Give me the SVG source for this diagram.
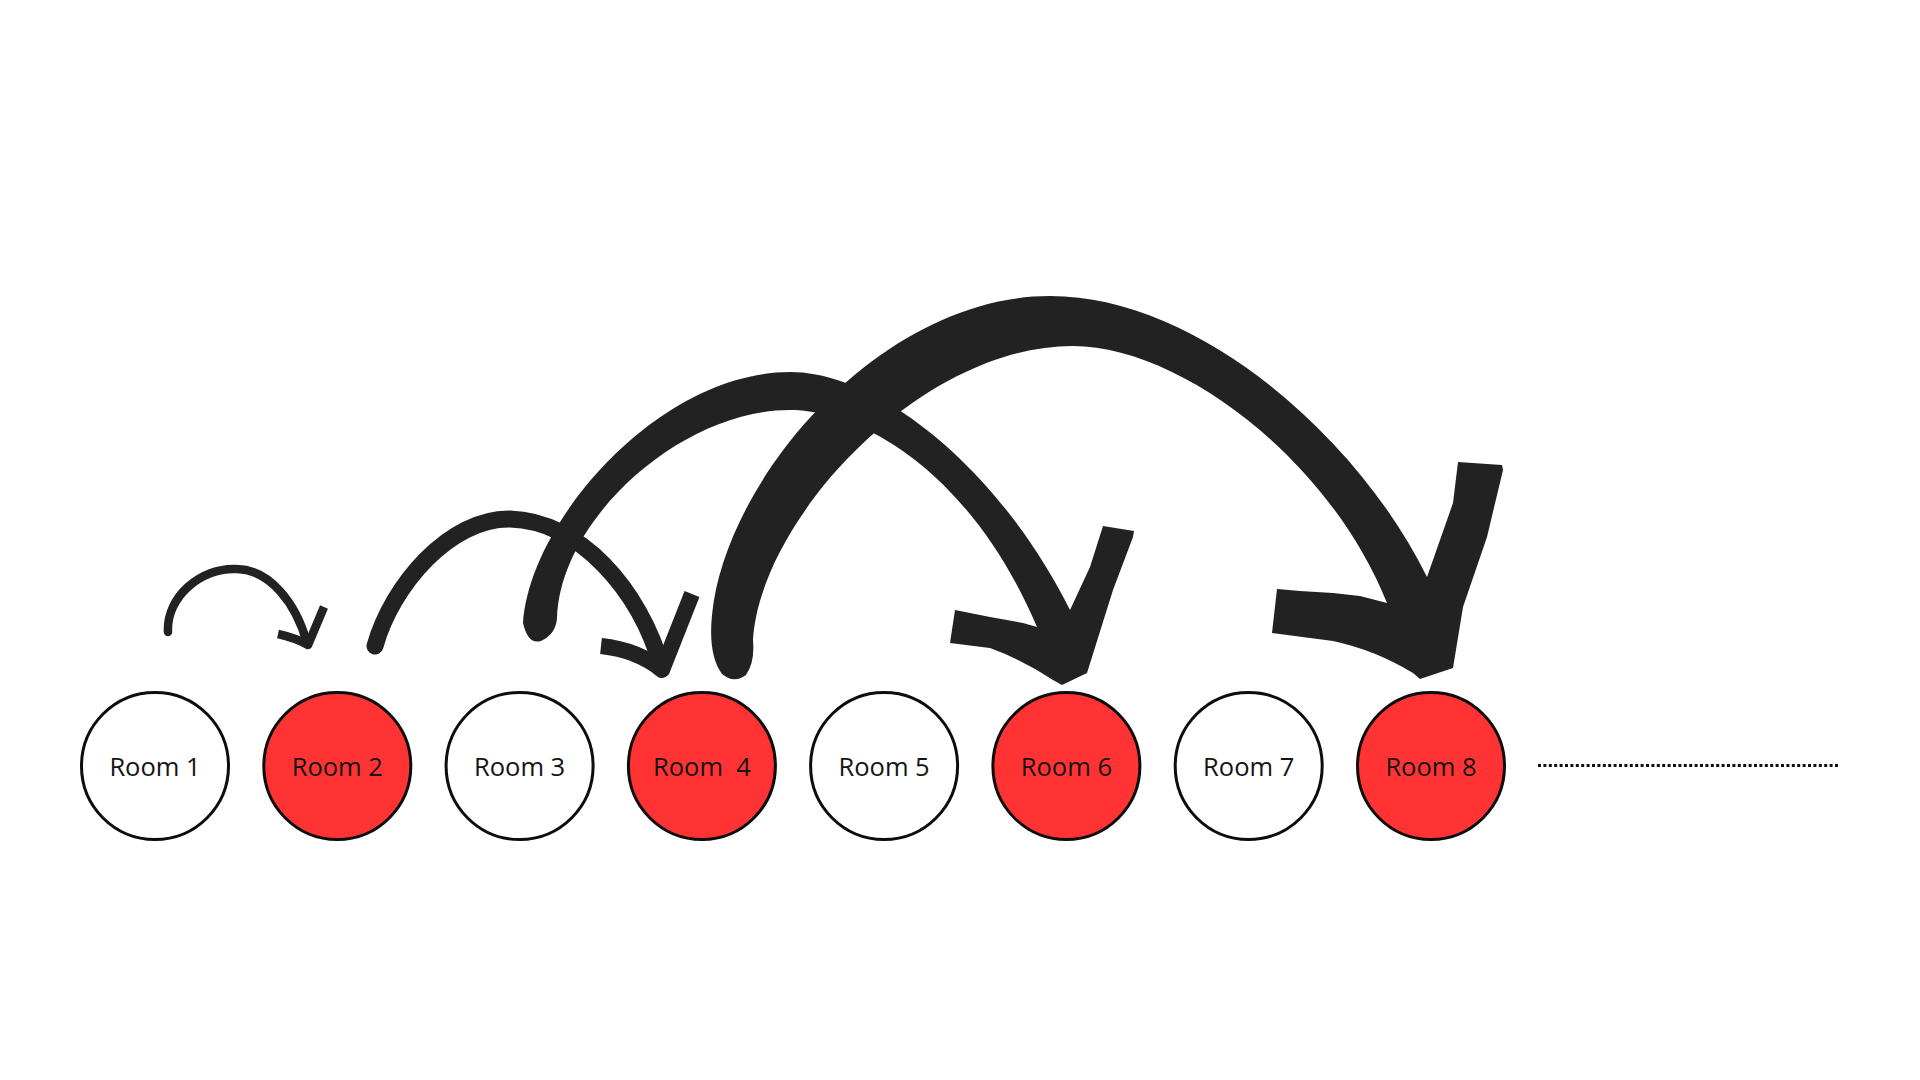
<svg xmlns="http://www.w3.org/2000/svg" width="1920" height="1080" viewBox="0 0 1920 1080">
<style>
.room{stroke:#0d0d0d;stroke-width:3}
.w{fill:#ffffff}
.r{fill:#ff3333}
.lbl{font-family:"Open Sans","Noto Sans","Liberation Sans",sans-serif;font-size:25.5px;fill:#141414;text-anchor:middle}
.brush{fill:#222222}
.line{fill:none;stroke:#222222;stroke-linecap:round;stroke-linejoin:round}
.head{fill:none;stroke:#222222;stroke-linecap:butt;stroke-linejoin:round}
</style>
<rect width="1920" height="1080" fill="#ffffff"/>
<g id="connectors">
  <g id="arrow-1-2">
    <path class="line" stroke-width="8.5" d="M168,632 C166,598 200,567 237,569 C270,570 296,603 307,643"/>
    <path class="head" stroke-width="8.5" d="M278,634 Q296,638 308,645 L324,607"/>
  </g>
  <g id="arrow-3-4">
    <path class="line" stroke-width="17" d="M375,646 C392,585 450,518 510,519 C580,521 640,590 662,668"/>
    <path class="head" stroke-width="16" d="M601,646 Q638,650 662,670 L692,594"/>
  </g>
  <path id="arrow-3-6" class="brush" d="M557,618 C560,520 680,410 790,410 C860,410 970,470 1037,627 L1023,623 L990,617 L955,610 L950,643 L990,648 Q1023,660 1053,680 L1062,685 L1087,673 L1113,590 L1133,537 L1134,531 L1103,526 L1090,567 L1070,610 C1000,470 880,372 790,372 C660,372 530,520 523,623 Q528,645 541,641 Q556,634 557,618 Z"/>
  <path id="arrow-4-8" class="brush" d="M753,640 C760,520 920,346 1073,346 C1180,346 1330,460 1387,603 L1360,596 L1333,593 L1300,591 L1277,589 L1272,633 L1333,641 Q1375,650 1413,673 L1420,679 L1453,668 L1463,607 L1487,537 L1503,470 L1502,465 L1458,462 L1453,503 L1427,577 C1360,440 1200,296 1050,296 C880,296 725,480 712,615 Q708,655 722,674 Q734,684 746,675 Q755,662 753,640 Z"/>
  <line id="continuation" x1="1538" y1="765.5" x2="1839" y2="765.5" stroke="#111111" stroke-width="3" stroke-dasharray="3 2.4"/>
</g>
<g id="room1"><circle class="room w" cx="155" cy="766" r="73.5"/><text class="lbl" x="155" y="776">Room 1</text></g>
<g id="room2"><circle class="room r" cx="337.3" cy="766" r="73.5"/><text class="lbl" x="337.3" y="776">Room 2</text></g>
<g id="room3"><circle class="room w" cx="519.6" cy="766" r="73.5"/><text class="lbl" x="519.6" y="776">Room 3</text></g>
<g id="room4"><circle class="room r" cx="701.9" cy="766" r="73.5"/><text class="lbl" x="701.9" y="776" xml:space="preserve">Room  4</text></g>
<g id="room5"><circle class="room w" cx="884.1" cy="766" r="73.5"/><text class="lbl" x="884.1" y="776">Room 5</text></g>
<g id="room6"><circle class="room r" cx="1066.4" cy="766" r="73.5"/><text class="lbl" x="1066.4" y="776">Room 6</text></g>
<g id="room7"><circle class="room w" cx="1248.7" cy="766" r="73.5"/><text class="lbl" x="1248.7" y="776">Room 7</text></g>
<g id="room8"><circle class="room r" cx="1431" cy="766" r="73.5"/><text class="lbl" x="1431" y="776">Room 8</text></g>
</svg>
